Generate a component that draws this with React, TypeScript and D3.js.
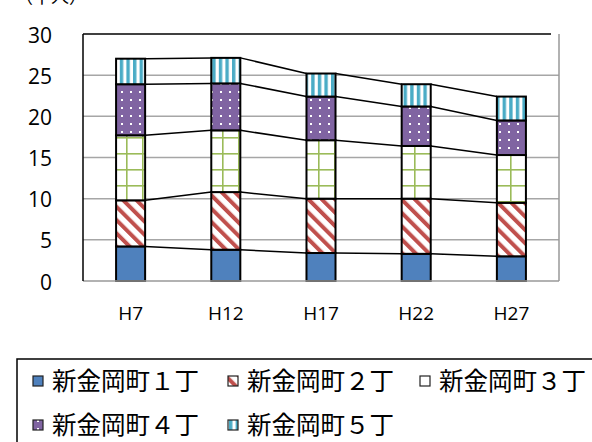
import React, { useEffect, useRef } from 'react';
import * as d3 from 'd3';

const years = ['H7', 'H12', 'H17', 'H22', 'H27'];
const seriesNames = ['新金岡町１丁', '新金岡町２丁', '新金岡町３丁', '新金岡町４丁', '新金岡町５丁'];
const town1 = [4.2, 3.8, 3.4, 3.3, 3.0];
const town2 = [5.6, 7.0, 6.6, 6.7, 6.5];
const town3 = [7.9, 7.5, 7.1, 6.4, 5.8];
const town4 = [6.2, 5.7, 5.3, 4.8, 4.2];
const town5 = [3.1, 3.1, 2.8, 2.7, 2.9];
const yTicks = [0, 5, 10, 15, 20, 25, 30];
const unitLabel = '（千人）';

const fills = ['url(#p1)', 'url(#p2)', 'url(#p3)', 'url(#p4)', 'url(#p5)'];

const App = () => {
    const ref = useRef<SVGSVGElement>(null);

    useEffect(() => {
        const svg = d3.select(ref.current);
        svg.selectAll('*').remove();

        const left = 83, right = 559, top = 34, bottom = 281;
        const tickFont = '"Open Sans", "Liberation Sans", sans-serif';
        const cjkFont = '"Noto Sans CJK JP", sans-serif';

        // patterns
        const defs = svg.append('defs');
        const p1 = defs.append('pattern').attr('id', 'p1')
            .attr('patternUnits', 'userSpaceOnUse').attr('width', 10).attr('height', 10);
        p1.append('rect').attr('width', 10).attr('height', 10).attr('fill', '#4f81bd');

        const p2 = defs.append('pattern').attr('id', 'p2')
            .attr('patternUnits', 'userSpaceOnUse').attr('width', 9.4).attr('height', 9.4)
            .attr('patternTransform', 'rotate(-45)');
        p2.append('rect').attr('width', 9.4).attr('height', 9.4).attr('fill', '#fff');
        p2.append('rect').attr('width', 4).attr('height', 9.4).attr('fill', '#c0504d');

        const p3 = defs.append('pattern').attr('id', 'p3')
            .attr('patternUnits', 'userSpaceOnUse').attr('width', 16).attr('height', 16)
            .attr('x', 7).attr('y', 2);
        p3.append('rect').attr('width', 16).attr('height', 16).attr('fill', '#fff');
        p3.append('rect').attr('x', 7).attr('width', 1.6).attr('height', 16).attr('fill', '#9bbb59');
        p3.append('rect').attr('y', 7).attr('width', 16).attr('height', 1.6).attr('fill', '#9bbb59');

        const p4 = defs.append('pattern').attr('id', 'p4')
            .attr('patternUnits', 'userSpaceOnUse').attr('width', 9).attr('height', 8);
        p4.append('rect').attr('width', 9).attr('height', 8).attr('fill', '#8064a2');
        p4.append('rect').attr('x', 4).attr('y', 3).attr('width', 2).attr('height', 2).attr('fill', '#fff');

        const p5 = defs.append('pattern').attr('id', 'p5')
            .attr('patternUnits', 'userSpaceOnUse').attr('width', 6.6).attr('height', 10)
            .attr('x', 1);
        p5.append('rect').attr('width', 6.6).attr('height', 10).attr('fill', '#fff');
        p5.append('rect').attr('width', 3.4).attr('height', 10).attr('fill', '#4bacc6');

        const x = d3.scaleBand()
            .domain(years)
            .range([left, right])
            .paddingInner(0.695)
            .paddingOuter(0.3475);
        const y = d3.scaleLinear().domain([0, 30]).range([bottom, top]);
        const bw = x.bandwidth();

        // gridlines
        svg.append('g').selectAll('line')
            .data(yTicks.filter(t => t > 0 && t < 30))
            .enter().append('line')
            .attr('x1', left).attr('x2', right)
            .attr('y1', d => y(d)).attr('y2', d => y(d))
            .attr('stroke', '#a6a6a6').attr('stroke-width', 1.5);

        // y tick labels
        svg.append('g').selectAll('text')
            .data(yTicks)
            .enter().append('text')
            .attr('x', 52).attr('y', d => y(d) + 1)
            .attr('dy', '0.36em')
            .attr('text-anchor', 'end')
            .attr('font-family', tickFont)
            .attr('font-size', 21)
            .text(d => d);

        // x tick labels
        svg.append('g').selectAll('text')
            .data(years)
            .enter().append('text')
            .attr('x', d => x(d) + bw / 2).attr('y', 313)
            .attr('dy', '0.36em')
            .attr('text-anchor', 'middle')
            .attr('font-family', tickFont)
            .attr('font-size', 19)
            .text(d => d);

        const stackData = years.map((yr, i) => ({
            year: yr, s0: town1[i], s1: town2[i], s2: town3[i], s3: town4[i], s4: town5[i]
        }));
        const stacked = d3.stack().keys(['s0', 's1', 's2', 's3', 's4'])(stackData);

        // bars
        const layers = svg.append('g').selectAll('g')
            .data(stacked)
            .enter().append('g')
            .attr('fill', (d, i) => fills[i]);
        layers.selectAll('rect')
            .data(d => d)
            .enter().append('rect')
            .attr('x', d => x(d.data.year))
            .attr('width', bw)
            .attr('y', d => y(d[1]))
            .attr('height', d => y(d[0]) - y(d[1]))
            .attr('stroke', '#000')
            .attr('stroke-width', 2);

        // series lines
        const lines = [];
        stacked.forEach(layer => {
            for (let i = 0; i < layer.length - 1; i++) {
                lines.push({
                    x1: x(years[i]) + bw, y1: y(layer[i][1]),
                    x2: x(years[i + 1]), y2: y(layer[i + 1][1])
                });
            }
        });
        svg.append('g').selectAll('line')
            .data(lines)
            .enter().append('line')
            .attr('x1', d => d.x1).attr('y1', d => d.y1)
            .attr('x2', d => d.x2).attr('y2', d => d.y2)
            .attr('stroke', '#000').attr('stroke-width', 1.5);

        // frame
        svg.append('line').attr('x1', left).attr('x2', right).attr('y1', bottom).attr('y2', bottom)
            .attr('stroke', '#999').attr('stroke-width', 1.5);
        svg.append('line').attr('x1', right).attr('x2', right).attr('y1', top).attr('y2', bottom)
            .attr('stroke', '#999').attr('stroke-width', 1.5);
        svg.append('line').attr('x1', left).attr('x2', 551).attr('y1', top).attr('y2', top)
            .attr('stroke', '#000').attr('stroke-width', 1.5);
        svg.append('line').attr('x1', left).attr('x2', left).attr('y1', top).attr('y2', bottom)
            .attr('stroke', '#000').attr('stroke-width', 1.5);

        // unit label (cut at top, as in the source)
        svg.append('text')
            .attr('x', 15).attr('y', 3)
            .attr('font-family', cjkFont)
            .attr('font-size', 18)
            .text(unitLabel);

        // legend
        svg.append('rect')
            .attr('x', 17).attr('y', 359).attr('width', 620).attr('height', 120)
            .attr('fill', 'none').attr('stroke', '#000').attr('stroke-width', 1.5);
        const legendPos = [[33, 381], [228, 381], [420, 381], [33, 425], [228, 425]];
        const legendItem = svg.append('g').selectAll('g')
            .data(seriesNames)
            .enter().append('g')
            .attr('transform', (d, i) => 'translate(' + legendPos[i][0] + ',' + legendPos[i][1] + ')');
        legendItem.append('rect')
            .attr('x', 0).attr('y', -5).attr('width', 10).attr('height', 10)
            .attr('fill', (d, i) => fills[i])
            .attr('stroke', '#222').attr('stroke-width', 1.2);
        legendItem.append('text')
            .attr('x', 19).attr('y', 0)
            .attr('dy', '0.36em')
            .attr('font-family', cjkFont)
            .attr('font-size', 24.5)
            .text(d => d);
    }, []);

    return (
        <svg ref={ref} width={592} height={442}
            style={{ position: 'absolute', left: 0, top: 0, background: '#fff' }} />
    );
};

export default App;
